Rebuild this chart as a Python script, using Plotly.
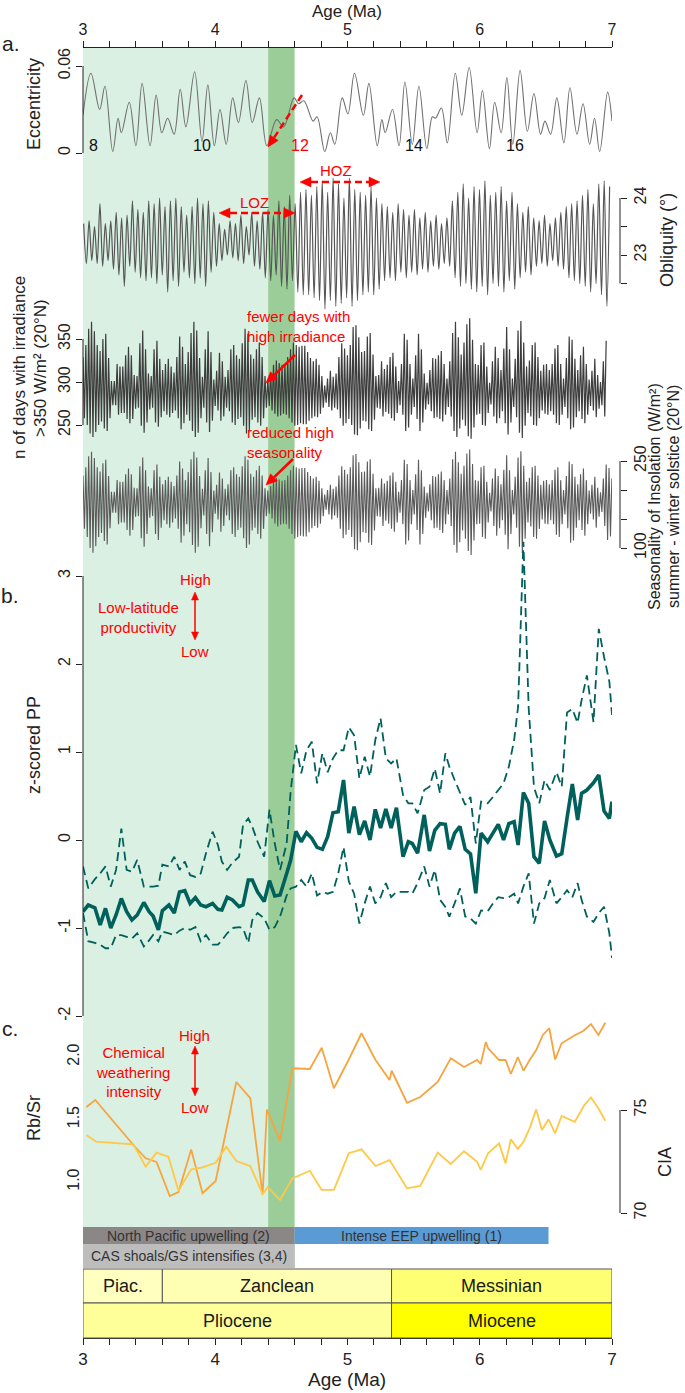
import math
import plotly.graph_objects as go

W, H = 685, 1393
FONT = "Liberation Sans, Arial, Helvetica, sans-serif"
RED = "#FF0000"
INK = "#222222"

# ---------------- data ----------------
x_ticks = [3, 4, 5, 6, 7]

ecc_age = [3.0, 3.06, 3.126, 3.166, 3.225, 3.265, 3.29, 3.35, 3.40, 3.447, 3.507, 3.553, 3.596, 3.64,
           3.689, 3.735, 3.778, 3.844, 3.90, 3.944, 3.993, 4.036, 4.083, 4.132, 4.175, 4.232, 4.28,
           4.334, 4.39, 4.464, 4.517, 4.596, 4.63, 4.67, 4.74, 4.77, 4.828, 4.87, 4.904, 4.96, 5.003,
           5.053, 5.12, 5.162, 5.225, 5.26, 5.285, 5.34, 5.39, 5.434, 5.49, 5.54, 5.6, 5.642, 5.665,
           5.71, 5.755, 5.815, 5.864, 5.92, 5.98, 6.02, 6.073, 6.113, 6.162, 6.205, 6.25, 6.305, 6.36,
           6.41, 6.46, 6.493, 6.536, 6.583, 6.636, 6.682, 6.735, 6.781, 6.831, 6.868, 6.907, 6.967, 7.0]
ecc_val = [0.026, 0.055, 0.030, 0.046, 0.001, 0.024, 0.014, 0.035, 0.005, 0.048, 0.005, 0.040, 0.014,
           0.024, 0.013, 0.044, 0.018, 0.056, 0.008, 0.047, 0.005, 0.030, 0.006, 0.038, 0.021, 0.050,
           0.021, 0.038, 0.005, 0.023, 0.018, 0.038, 0.034, 0.036, 0.022, 0.025, 0.001, 0.014, 0.006,
           0.038, 0.027, 0.055, 0.026, 0.048, 0.005, 0.023, 0.014, 0.030, 0.005, 0.049, 0.006, 0.046,
           0.003, 0.025, 0.024, 0.031, 0.007, 0.055, 0.026, 0.059, 0.014, 0.043, 0.003, 0.035, 0.014,
           0.052, 0.006, 0.057, 0.015, 0.041, 0.013, 0.022, 0.013, 0.038, 0.007, 0.045, 0.013, 0.034,
           0.006, 0.024, 0.001, 0.042, 0.022]

# obliquity: successive maxima / minima (41-kyr cycles from 3.0 Ma)
obl_peak = [23.55, 23.6, 23.5, 23.9, 23.55, 23.6, 23.75, 23.65, 23.7, 23.95, 23.8, 23.75, 23.95, 23.9,
            24.0, 23.85, 23.95, 24.0, 23.85, 23.7, 23.85, 24.0, 23.9, 23.95, 23.75, 23.55, 23.45, 23.6,
            23.55, 23.7, 23.5, 23.75, 23.6, 23.75, 23.8, 23.7, 23.95, 23.85, 24.05, 23.9, 24.1, 24.15,
            24.05, 24.2, 24.3, 24.1, 24.35, 24.25, 24.0, 24.35, 24.15, 24.1, 24.05, 24.2, 24.0, 23.9,
            23.85, 23.75, 23.9, 23.8, 23.7, 23.8, 23.65, 23.75, 23.6, 23.7, 23.55, 23.65, 23.95, 24.1,
            24.25, 24.0, 24.2, 24.15, 24.3, 24.05, 24.1, 24.2, 23.95, 24.1, 23.9, 23.75, 23.85, 23.65,
            23.6, 23.7, 23.55, 23.65, 23.75, 23.85, 23.9, 23.95, 24.05, 24.15, 23.9, 24.25, 24.3, 24.2]
obl_trough = [22.85, 22.9, 22.85, 22.8, 22.9, 22.75, 22.65, 22.45, 22.8, 22.7, 22.6, 22.55, 22.6, 22.5,
              22.65, 22.35, 22.55, 22.45, 22.7, 22.6, 22.5, 22.6, 22.45, 22.7, 22.8, 22.9, 23.0, 22.95,
              22.9, 22.85, 23.0, 22.8, 22.75, 22.6, 22.55, 22.65, 22.45, 22.4, 22.55, 22.35, 22.3, 22.3,
              22.25, 22.2, 22.05, 22.2, 22.1, 22.15, 22.25, 22.1, 22.2, 22.3, 22.35, 22.3, 22.4, 22.55,
              22.6, 22.55, 22.7, 22.6, 22.7, 22.65, 22.75, 22.7, 22.8, 22.75, 22.85, 22.8, 22.6, 22.45,
              22.5, 22.4, 22.35, 22.45, 22.3, 22.5, 22.45, 22.35, 22.55, 22.4, 22.6, 22.7, 22.65, 22.8,
              22.85, 22.8, 22.9, 22.8, 22.75, 22.6, 22.55, 22.5, 22.45, 22.35, 22.5, 22.3, 22.1, 22.15]

# n of days > 350 W/m2 (20N): successive maxima / minima of precession cycles
irr_peak = [329, 343, 362, 370, 359, 343, 336, 350, 356, 328, 301, 301, 321, 318, 318, 331, 341, 331, 308, 307,
            345, 360, 338, 310, 307, 338, 348, 327, 314, 321, 327, 318, 311, 329, 353, 341, 321, 335, 357, 370,
            360, 328, 306, 338, 359, 335, 303, 313, 334, 324, 306, 314, 338, 343, 331, 327, 345, 362, 356, 332,
            327, 338, 346, 329, 307, 303, 311, 320, 325, 322, 320, 321, 329, 338, 346, 343, 341, 342, 342, 335,
            328, 324, 327, 320, 307, 296, 304, 313, 306, 310, 329, 345, 339, 331, 343, 364, 366, 352, 335, 336,
            353, 357, 332, 307, 308, 324, 315, 320, 329, 334, 318, 301, 321, 356, 349, 321, 304, 331, 356, 338,
            310, 299, 314, 328, 327, 331, 336, 321, 304, 324, 357, 370, 352, 332, 346, 367, 374, 349, 321, 320,
            343, 346, 318, 299, 324, 341, 328, 314, 339, 364, 338, 304, 327, 360, 371, 346, 318, 325, 343, 346,
            329, 313, 320, 321, 314, 321, 339, 343, 321, 304, 328, 353, 349, 327, 314, 331, 341, 321, 303, 313,
            327, 308, 300, 324, 348]
irr_trough = [258, 250, 240, 236, 242, 250, 254, 246, 243, 258, 273, 273, 262, 264, 264, 257, 252, 257, 269, 270,
              249, 241, 253, 268, 270, 253, 248, 259, 266, 262, 259, 264, 267, 258, 245, 252, 262, 255, 243, 236,
              241, 258, 270, 253, 242, 255, 272, 267, 255, 260, 270, 266, 253, 250, 257, 259, 249, 240, 243, 256,
              259, 253, 249, 258, 270, 272, 267, 263, 260, 261, 263, 262, 258, 253, 249, 250, 252, 251, 251, 255,
              258, 260, 259, 263, 270, 276, 271, 267, 270, 268, 258, 249, 252, 257, 250, 239, 238, 246, 255, 254,
              245, 243, 256, 270, 269, 260, 265, 263, 258, 255, 264, 273, 262, 243, 247, 262, 271, 257, 243, 253,
              268, 274, 266, 258, 259, 257, 254, 262, 271, 260, 243, 236, 246, 256, 249, 237, 234, 247, 262, 263,
              250, 249, 264, 274, 260, 252, 258, 266, 252, 239, 253, 271, 259, 241, 235, 249, 264, 260, 250, 249,
              258, 267, 263, 262, 266, 262, 252, 250, 262, 271, 258, 245, 247, 259, 266, 257, 252, 262, 272, 267,
              259, 269, 273, 260, 248]

# seasonality of insolation (summer - winter solstice, 20N): maxima / minima
sea_peak = [225, 239, 258, 266, 255, 239, 232, 246, 252, 224, 197, 197, 217, 214, 214, 227, 237, 227, 204, 203,
            241, 256, 234, 206, 203, 234, 244, 223, 210, 217, 223, 214, 207, 225, 249, 237, 217, 231, 253, 266,
            256, 224, 202, 234, 255, 231, 199, 209, 230, 220, 202, 210, 234, 239, 227, 223, 241, 258, 252, 228,
            223, 234, 242, 225, 203, 199, 207, 216, 221, 218, 216, 217, 225, 234, 242, 239, 237, 238, 238, 231,
            224, 220, 223, 216, 203, 192, 200, 209, 202, 206, 225, 241, 235, 227, 239, 260, 262, 248, 231, 232,
            249, 253, 228, 203, 204, 220, 211, 216, 225, 230, 214, 197, 217, 252, 245, 217, 200, 227, 252, 234,
            206, 195, 210, 224, 223, 227, 232, 217, 200, 220, 253, 266, 248, 228, 242, 263, 270, 245, 217, 216,
            239, 242, 214, 195, 220, 237, 224, 210, 235, 260, 234, 200, 223, 256, 267, 242, 214, 221, 239, 242,
            225, 209, 216, 217, 210, 217, 235, 239, 217, 200, 224, 249, 245, 223, 210, 227, 237, 217, 199, 209,
            223, 204, 196, 220, 244, 238, 220]
sea_trough = [133, 119, 100, 92, 103, 119, 126, 112, 106, 134, 161, 161, 141, 144, 144, 131, 121, 131, 154, 155,
              117, 102, 124, 152, 155, 124, 114, 135, 148, 141, 135, 144, 151, 133, 109, 121, 141, 127, 105, 92,
              102, 134, 156, 124, 103, 127, 159, 149, 128, 138, 156, 148, 124, 119, 131, 135, 117, 100, 106, 130,
              135, 124, 116, 133, 155, 159, 151, 142, 137, 140, 142, 141, 133, 124, 116, 119, 121, 120, 120, 127,
              134, 138, 135, 142, 155, 166, 158, 149, 156, 152, 133, 117, 123, 131, 119, 98, 96, 110, 127, 126,
              109, 105, 130, 155, 154, 138, 147, 142, 133, 128, 144, 161, 141, 106, 113, 141, 158, 131, 106, 124,
              152, 163, 148, 134, 135, 131, 126, 141, 158, 138, 105, 92, 110, 130, 116, 95, 88, 113, 141, 142,
              119, 116, 144, 163, 138, 121, 134, 148, 123, 98, 124, 158, 135, 102, 91, 116, 144, 137, 119, 116,
              133, 149, 142, 141, 148, 141, 123, 119, 141, 158, 134, 109, 113, 135, 148, 131, 121, 141, 159, 149,
              135, 154, 162, 138, 114, 120, 138]

pp_age = [3.00, 3.04, 3.09, 3.13, 3.17, 3.21, 3.25, 3.29, 3.33, 3.37, 3.41, 3.46, 3.50, 3.53, 3.57, 3.60,
          3.65, 3.69, 3.73, 3.77, 3.81, 3.85, 3.89, 3.93, 3.98, 4.02, 4.05, 4.09, 4.13, 4.18, 4.21, 4.25,
          4.28, 4.32, 4.37, 4.41, 4.45, 4.49, 4.54, 4.57, 4.61, 4.65, 4.69, 4.73, 4.77, 4.81, 4.85, 4.89,
          4.93, 4.97, 5.01, 5.05, 5.09, 5.13, 5.17, 5.21, 5.25, 5.29, 5.33, 5.37, 5.42, 5.46, 5.49, 5.53,
          5.58, 5.62, 5.66, 5.70, 5.74, 5.77, 5.81, 5.85, 5.89, 5.93, 5.97, 6.01, 6.06, 6.10, 6.14, 6.18,
          6.22, 6.26, 6.29, 6.33, 6.37, 6.41, 6.45, 6.49, 6.53, 6.58, 6.62, 6.66, 6.70, 6.74, 6.77, 6.81,
          6.86, 6.90, 6.94, 6.98, 7.00]
pp_mean = [-0.815, -0.739, -0.77, -0.965, -0.777, -1.0, -0.852, -0.665, -0.815, -0.909,
           -0.852, -0.71, -0.815, -0.864, -1.02, -0.803, -0.739, -0.83, -0.59, -0.576,
           -0.72, -0.655, -0.739, -0.758, -0.72, -0.788, -0.795, -0.65, -0.682, -0.758,
           -0.739, -0.455, -0.455, -0.59, -0.70, -0.462, -0.636, -0.625, -0.38, -0.23,
           0.1, -0.02, 0.083, 0.019, -0.084, -0.106, 0.038, 0.31, 0.322, 0.682,
           0.078, 0.38, 0.06, 0.216, 0.0, 0.348, 0.136, 0.352, 0.136, 0.367,
           -0.19, -0.02, -0.04, -0.15, 0.285, -0.125, 0.11, 0.186, 0.178, -0.106,
           0.078, 0.155, -0.106, -0.159, -0.606, 0.078, -0.02, 0.078, 0.178, 0.0,
           0.186, 0.208, -0.057, 0.54, 0.417, -0.19, -0.265, 0.216, 0.0, -0.182,
           -0.155, 0.25, 0.636, 0.227, 0.53, 0.568, 0.65, 0.739, 0.33, 0.246,
           0.436]
pp_upper = [-0.30, -0.55, -0.445, -0.38, -0.30, -0.53, -0.34, 0.13, -0.34, -0.36,
            -0.227, -0.53, -0.53, -0.53, -0.52, -0.28, -0.30, -0.19, -0.34, -0.245,
            -0.40, -0.42, -0.38, -0.15, 0.095, -0.057, -0.245, -0.34, -0.257, -0.19,
            0.17, 0.246, 0.152, -0.02, -0.19, 0.345, -0.04, -0.34, -0.04, 0.55,
            1.08, 0.757, 1.02, 1.117, 0.644, 0.985, 0.77, 0.928, 1.02, 1.02,
            1.28, 1.19, 0.70, 0.947, 0.72, 1.136, 1.382, 0.928, 0.87, 0.928,
            0.51, 0.417, 0.417, 0.303, 0.568, 0.606, 0.81, 0.53, 0.985, 0.833,
            0.682, 0.55, 0.40, 0.49, -0.04, 0.436, 0.417, 0.49, 0.568, 0.644,
            0.833, 1.136, 1.515, 3.39, 1.5, 0.6, 0.417, 0.68, 0.568, 0.77,
            0.606, 1.45, 1.49, 1.33, 1.59, 1.87, 1.34, 2.40, 2.08, 1.8,
            1.42]
pp_lower = [-0.83, -1.15, -1.17, -1.19, -1.23, -1.23, -1.08, -1.08, -1.10, -1.12,
            -1.06, -1.21, -1.14, -1.08, -1.15, -1.04, -1.06, -1.08, -1.03, -1.0,
            -1.02, -0.99, -1.15, -1.08, -1.19, -1.19, -1.14, -1.06, -1.0, -0.99,
            -1.0, -1.17, -0.91, -0.83, -0.89, -1.02, -0.99, -0.87, -0.63, -0.55,
            -0.53, -0.455, -0.53, -0.38, -0.63, -0.59, -0.61, -0.59, -0.38, -0.08,
            -0.47, -0.61, -0.95, -0.72, -0.53, -0.72, -0.65, -0.49, -0.65, -0.59,
            -0.59, -0.59, -0.61, -0.49, -0.30, -0.53, -0.34, -0.68, -0.76, -0.87,
            -0.72, -0.55, -0.87, -0.89, -0.95, -0.80, -0.81, -0.72, -0.65, -0.66,
            -0.65, -0.61, -0.72, -0.53, -0.38, -0.95, -0.72, -0.66, -0.455, -0.72,
            -0.65, -0.57, -0.65, -0.49, -0.68, -0.87, -0.93, -0.83, -0.76, -1.06,
            -1.34]

rbsr_age = [3.026, 3.093, 3.381, 3.474, 3.556, 3.656, 3.722, 3.818, 3.904, 4.003, 4.159, 4.265, 4.358,
            4.391, 4.490, 4.583, 4.715, 4.805, 4.897, 5.010, 5.106, 5.212, 5.318, 5.334, 5.450, 5.550,
            5.682, 5.781, 5.881, 5.980, 6.007, 6.046, 6.063, 6.146, 6.195, 6.235, 6.288, 6.331, 6.377,
            6.427, 6.477, 6.526, 6.570, 6.619, 6.709, 6.785, 6.841, 6.897, 6.950]
rbsr_val = [1.60, 1.656, 1.296, 1.19, 1.16, 0.888, 0.92, 1.26, 0.91, 1.008, 1.80, 1.67, 0.90, 1.58, 1.33,
            1.91, 1.904, 2.074, 1.75, 1.98, 2.19, 1.976, 1.816, 1.89, 1.634, 1.68, 1.80, 1.99, 1.92, 1.976,
            1.944, 2.12, 2.07, 1.976, 1.976, 1.864, 2.0, 1.89, 1.976, 2.056, 2.176, 2.23, 1.98, 2.11,
            2.168, 2.21, 2.264, 2.176, 2.274]
cia_age = [3.026, 3.099, 3.381, 3.474, 3.556, 3.646, 3.722, 3.818, 3.904, 4.003, 4.083, 4.159, 4.265,
           4.358, 4.397, 4.490, 4.583, 4.715, 4.805, 4.897, 5.010, 5.106, 5.212, 5.318, 5.450, 5.550,
           5.682, 5.781, 5.881, 5.980, 6.007, 6.063, 6.146, 6.195, 6.235, 6.288, 6.331, 6.377, 6.427,
           6.470, 6.520, 6.570, 6.619, 6.719, 6.791, 6.841, 6.897, 6.950]
cia_val = [73.79, 73.46, 73.33, 72.25, 72.93, 72.73, 71.08, 72.12, 72.22, 72.44, 73.22, 72.52, 72.28,
           70.92, 71.25, 70.63, 71.68, 72.05, 71.12, 71.12, 72.9, 73.09, 72.28, 72.57, 71.2, 71.31,
           72.93, 72.38, 73.0, 72.49, 72.09, 72.9, 73.38, 72.41, 73.58, 73.11, 73.46, 74.11, 75.03,
           74.03, 74.55, 73.87, 74.71, 74.43, 75.24, 75.61, 75.08, 74.48]

shade_light = (3.0, 4.4)
shade_dark = (4.4, 4.6)
stages = [("Piac.", 3.0, 3.6, "#FFFFBF"), ("Zanclean", 3.6, 5.333, "#FFFFB3"), ("Messinian", 5.333, 7.0, "#FFFF73")]
epochs = [("Pliocene", 3.0, 5.333, "#FFFF99"), ("Miocene", 5.333, 7.0, "#FFFF00")]
events = [("North Pacific upwelling (2)", 3.0, 4.6, "#8C8787", 1227, 1244),
          ("Intense EEP upwelling (1)", 4.6, 6.52, "#5B9BD5", 1227, 1244),
          ("CAS shoals/GS intensifies (3,4)", 3.0, 4.6, "#BDBDBD", 1244, 1268)]
ecc_cycle_labels = [("8", 3.08, "#111"), ("10", 3.90, "#111"), ("12", 4.64, RED), ("14", 5.50, "#111"), ("16", 6.27, "#111")]


# ---------------- helpers ----------------
def alternate(start, half_step, peaks, troughs, stop=7.0):
    n = min(len(peaks), len(troughs))
    ages, vals = [], []
    for i in range(n):
        for j, v in ((0, peaks[i]), (1, troughs[i])):
            a = start + (2 * i + j) * half_step
            if a <= stop + 1e-9:
                ages.append(a)
                vals.append(v)
    return ages, vals


def ydom(top, bot):
    return [1 - bot / H, 1 - top / H]


def yrange(top, bot, v1, p1, v2, p2):
    s = (v2 - v1) / (p2 - p1)
    return [v1 + (bot - p1) * s, v1 + (top - p1) * s]


def P(x, y):
    return x / W, 1 - y / H


def yax(top, bot, cal, tickvals, ticktext, side="left", ticks="outside"):
    d = dict(domain=ydom(top, bot), range=yrange(top, bot, *cal), tickmode="array",
             tickvals=tickvals, ticktext=ticktext, tickangle=-90, ticks=ticks, ticklen=6,
             tickwidth=1, tickcolor=INK, showgrid=False, zeroline=False, showline=False,
             automargin=False, tickfont=dict(size=16, color=INK, family=FONT), fixedrange=True)
    if side == "left":
        d.update(anchor="x", side="left")
    else:
        d.update(anchor="free", position=620 / W, side="right")
    return d


shapes, annotations = [], []


def text(x, y, s, size=16, color=INK, angle=0, xanchor="center", align="center"):
    px, py = P(x, y)
    annotations.append(dict(x=px, y=py, xref="paper", yref="paper", text=s, showarrow=False,
                            font=dict(size=size, color=color, family=FONT), textangle=angle,
                            xanchor=xanchor, yanchor="middle", align=align, borderpad=0))


def arrow(tail, tip, dash=None, width=2.5, L=11, hw=5, both=False):
    def head(tp, tl):
        dx, dy = tp[0] - tl[0], tp[1] - tl[1]
        n = math.hypot(dx, dy)
        ux, uy = dx / n, dy / n
        bx, by = tp[0] - ux * L, tp[1] - uy * L
        nx, ny = -uy, ux
        pts = [tp, (bx + nx * hw, by + ny * hw), (bx - nx * hw, by - ny * hw)]
        path = "M " + " L ".join(f"{p[0] / W:.5f},{1 - p[1] / H:.5f}" for p in pts) + " Z"
        shapes.append(dict(type="path", path=path, xref="paper", yref="paper",
                           fillcolor=RED, line=dict(color=RED, width=0.5), layer="above"))
        return bx, by
    b1 = head(tip, tail)
    b0 = head(tail, tip) if both else tail
    x0, y0 = P(*b0)
    x1, y1 = P(*b1)
    ln = dict(color=RED, width=width)
    if dash:
        ln["dash"] = dash
    shapes.append(dict(type="line", x0=x0, y0=y0, x1=x1, y1=y1, xref="paper", yref="paper",
                       line=ln, layer="above"))


def vline_axis(xpx, yref, v0, v1):
    shapes.append(dict(type="line", xref="paper", yref=yref, x0=xpx / W, x1=xpx / W, y0=v0, y1=v1,
                       line=dict(color=INK, width=1), layer="above"))


# ---------------- figure ----------------
fig = go.Figure()

obl_age, obl_val = alternate(3.005, 0.0205, obl_peak, obl_trough)
irr_age, irr_val = alternate(3.0, 0.01075, irr_peak, irr_trough, stop=6.96)
sea_age, sea_val = alternate(3.0, 0.01075, sea_peak, sea_trough)

fig.add_trace(go.Scatter(x=ecc_age, y=ecc_val, mode="lines", yaxis="y",
                         line=dict(color="#707070", width=1.1, shape="spline", smoothing=1.0)))
fig.add_trace(go.Scatter(x=obl_age, y=obl_val, mode="lines", yaxis="y2",
                         line=dict(color="#555555", width=1.2, shape="spline", smoothing=0.9)))
fig.add_trace(go.Scatter(x=irr_age, y=irr_val, mode="lines", yaxis="y3",
                         line=dict(color="#3d3d3d", width=1.2)))
fig.add_trace(go.Scatter(x=sea_age, y=sea_val, mode="lines", yaxis="y4",
                         line=dict(color="#5a5a5a", width=1.1)))
TEAL = "#00605C"
fig.add_trace(go.Scatter(x=pp_age, y=pp_upper, mode="lines", yaxis="y5",
                         line=dict(color=TEAL, width=1.8, dash="9px,5px")))
fig.add_trace(go.Scatter(x=pp_age, y=pp_lower, mode="lines", yaxis="y5",
                         line=dict(color=TEAL, width=1.8, dash="9px,5px")))
fig.add_trace(go.Scatter(x=pp_age, y=pp_mean, mode="lines", yaxis="y5",
                         line=dict(color=TEAL, width=3.6)))
fig.add_trace(go.Scatter(x=cia_age, y=cia_val, mode="lines", yaxis="y7",
                         line=dict(color="#FFC845", width=1.8)))
fig.add_trace(go.Scatter(x=rbsr_age, y=rbsr_val, mode="lines", yaxis="y6",
                         line=dict(color="#F5A540", width=1.8)))
# carrier for the top age axis
fig.add_trace(go.Scatter(x=[3, 7], y=[None, None], xaxis="x2", yaxis="y", mode="lines"))

xcommon = dict(domain=[83 / W, 612 / W], range=[3, 7], anchor="free", tickmode="linear", tick0=3, dtick=1,
               ticks="outside", ticklen=6, tickwidth=1, tickcolor=INK, showline=True, linecolor=INK,
               linewidth=1, showgrid=False, zeroline=False, fixedrange=True, automargin=False,
               minor=dict(dtick=0.2, tick0=3, ticks="outside", ticklen=6, tickwidth=1, tickcolor=INK),
               tickfont=dict(size=17, color=INK, family=FONT))

layout = dict(
    template="none",
    width=W, height=H, margin=dict(l=0, r=0, t=0, b=0, pad=0, autoexpand=False), showlegend=False,
    paper_bgcolor="white", plot_bgcolor="rgba(0,0,0,0)", hovermode=False,
    font=dict(family=FONT, color=INK),
    xaxis=dict(xcommon, position=1 - 1338 / H, side="bottom"),
    xaxis2=dict(xcommon, position=1 - 47 / H, side="top", overlaying="x",
                tickfont=dict(size=16, color=INK, family=FONT)),
    yaxis=yax(55, 160, (0.06, 66, 0.0, 153), [0, 0.06], ["0", "0.06"]),
    yaxis2=yax(168, 316, (24, 198, 23, 255), [22.5, 23, 23.5, 24], ["", "23", "", "24"], side="right"),
    yaxis3=yax(312, 446, (350, 339, 250, 425), [250, 300, 350], ["250", "300", "350"]),
    yaxis4=yax(440, 560, (250, 461, 100, 548), [100, 150, 200, 250], ["100", "", "", "250"], side="right"),
    yaxis5=yax(530, 1030, (0, 840, 1, 752), [-2, -1, 0, 1, 2, 3], ["-2", "-1", "0", "1", "2", "3"]),
    yaxis6=yax(1010, 1225, (2.0, 1057, 1.0, 1182), [1.0, 1.5, 2.0], ["1.0", "1.5", "2.0"], ticks=""),
    yaxis7=yax(1010, 1225, (75, 1110, 70, 1213), [70, 75], ["70", "75"], side="right"),
)

# background shading
for (a0, a1), col in ((shade_light, "#DAF0E3"), (shade_dark, "#9ACD98")):
    shapes.append(dict(type="rect", xref="x", yref="paper", x0=a0, x1=a1, y0=1 - 1268 / H, y1=1 - 47 / H,
                       fillcolor=col, line=dict(width=0), layer="below"))

# event bars
for label, a0, a1, col, t, b in events:
    shapes.append(dict(type="rect", xref="x", yref="paper", x0=a0, x1=a1, y0=1 - b / H, y1=1 - t / H,
                       fillcolor=col, line=dict(width=0), layer="above"))
    annotations.append(dict(x=(a0 + a1) / 2, y=1 - (t + b) / 2 / H, xref="x", yref="paper", text=label,
                            showarrow=False, font=dict(size=14, color="#333", family=FONT),
                            xanchor="center", yanchor="middle", borderpad=0))

# time scale
for rows, (t, b) in ((stages, (1269, 1303)), (epochs, (1303, 1338))):
    for label, a0, a1, col in rows:
        shapes.append(dict(type="rect", xref="x", yref="paper", x0=a0, x1=a1, y0=1 - b / H, y1=1 - t / H,
                           fillcolor=col, line=dict(color="#555", width=1), layer="above"))
        annotations.append(dict(x=(a0 + a1) / 2, y=1 - (t + b) / 2 / H, xref="x", yref="paper", text=label,
                                showarrow=False, font=dict(size=18, color="#1a1a1a", family=FONT),
                                xanchor="center", yanchor="middle", borderpad=0))

# axis lines (only over tick span)
vline_axis(83, "y", 0, 0.06)
vline_axis(620, "y2", 22.5, 24)
vline_axis(83, "y3", 250, 350)
vline_axis(620, "y4", 100, 250)
vline_axis(83, "y5", -2, 3)
vline_axis(620, "y7", 70, 75)

# titles
text(347, 11, "Age (Ma)", size=17)
text(347, 1379, "Age (Ma)", size=19)
text(11, 44, "a.", size=21)
text(10, 595, "b.", size=21)
text(10, 1028, "c.", size=21)
text(34, 104, "Eccentricity", size=18, angle=-90)
text(20, 368, "n of days with irradiance", size=17, angle=-90)
text(41, 368, "&gt;350 W/m² (20°N)", size=17, angle=-90)
text(34, 745, "z-scored PP", size=18, angle=-90)
text(34, 1118, "Rb/Sr", size=18, angle=-90)
text(667, 240, "Obliquity (°)", size=18, angle=-90)
text(654, 497, "Seasonality of Insolation (W/m²)", size=16, angle=-90)
text(673, 497, "summer - winter solstice (20°N)", size=16, angle=-90)
text(665, 1162, "CIA", size=18, angle=-90)

for s, a, c in ecc_cycle_labels:
    px = 83 + (a - 3) * (612 - 83) / 4
    text(px, 146, s, size=16, color=c)

# red annotations
text(336, 170, "HOZ", size=15, color=RED)
text(254, 203, "LOZ", size=15, color=RED)
text(246, 327, "fewer days with<br>high irradiance", size=15, color=RED, xanchor="left", align="left")
text(246, 442, "reduced high<br>seasonality", size=15, color=RED, xanchor="left", align="left")
text(195, 579, "High", size=15, color=RED)
text(138, 617, "Low-latitude<br>productivity", size=15, color=RED)
text(195, 651, "Low", size=15, color=RED)
text(194, 1035, "High", size=15, color=RED)
text(133, 1072, "Chemical<br>weathering<br>intensity", size=15, color=RED)
text(195, 1107, "Low", size=15, color=RED)

arrow((302, 95), (268, 147), dash="7px,4px", width=2.5)
arrow((300, 182), (380, 182), dash="7px,4px", width=2.5, both=True)
arrow((219, 213), (295, 213), dash="7px,4px", width=2.5, both=True)
arrow((295, 355), (266, 383), width=2.5)
arrow((293, 459), (266, 485), width=2.5)
arrow((195, 592), (195, 640), width=1.5, L=8, hw=3.5, both=True)
arrow((195, 1046), (195, 1096), width=1.5, L=8, hw=3.5, both=True)

layout["shapes"] = shapes
layout["annotations"] = annotations
fig.update_layout(**layout)
fig.write_html("out.html", config={"displayModeBar": False, "staticPlot": True},
               post_script="document.body.style.margin='0';document.body.style.padding='0';"
                           "document.body.style.overflow='hidden';")
